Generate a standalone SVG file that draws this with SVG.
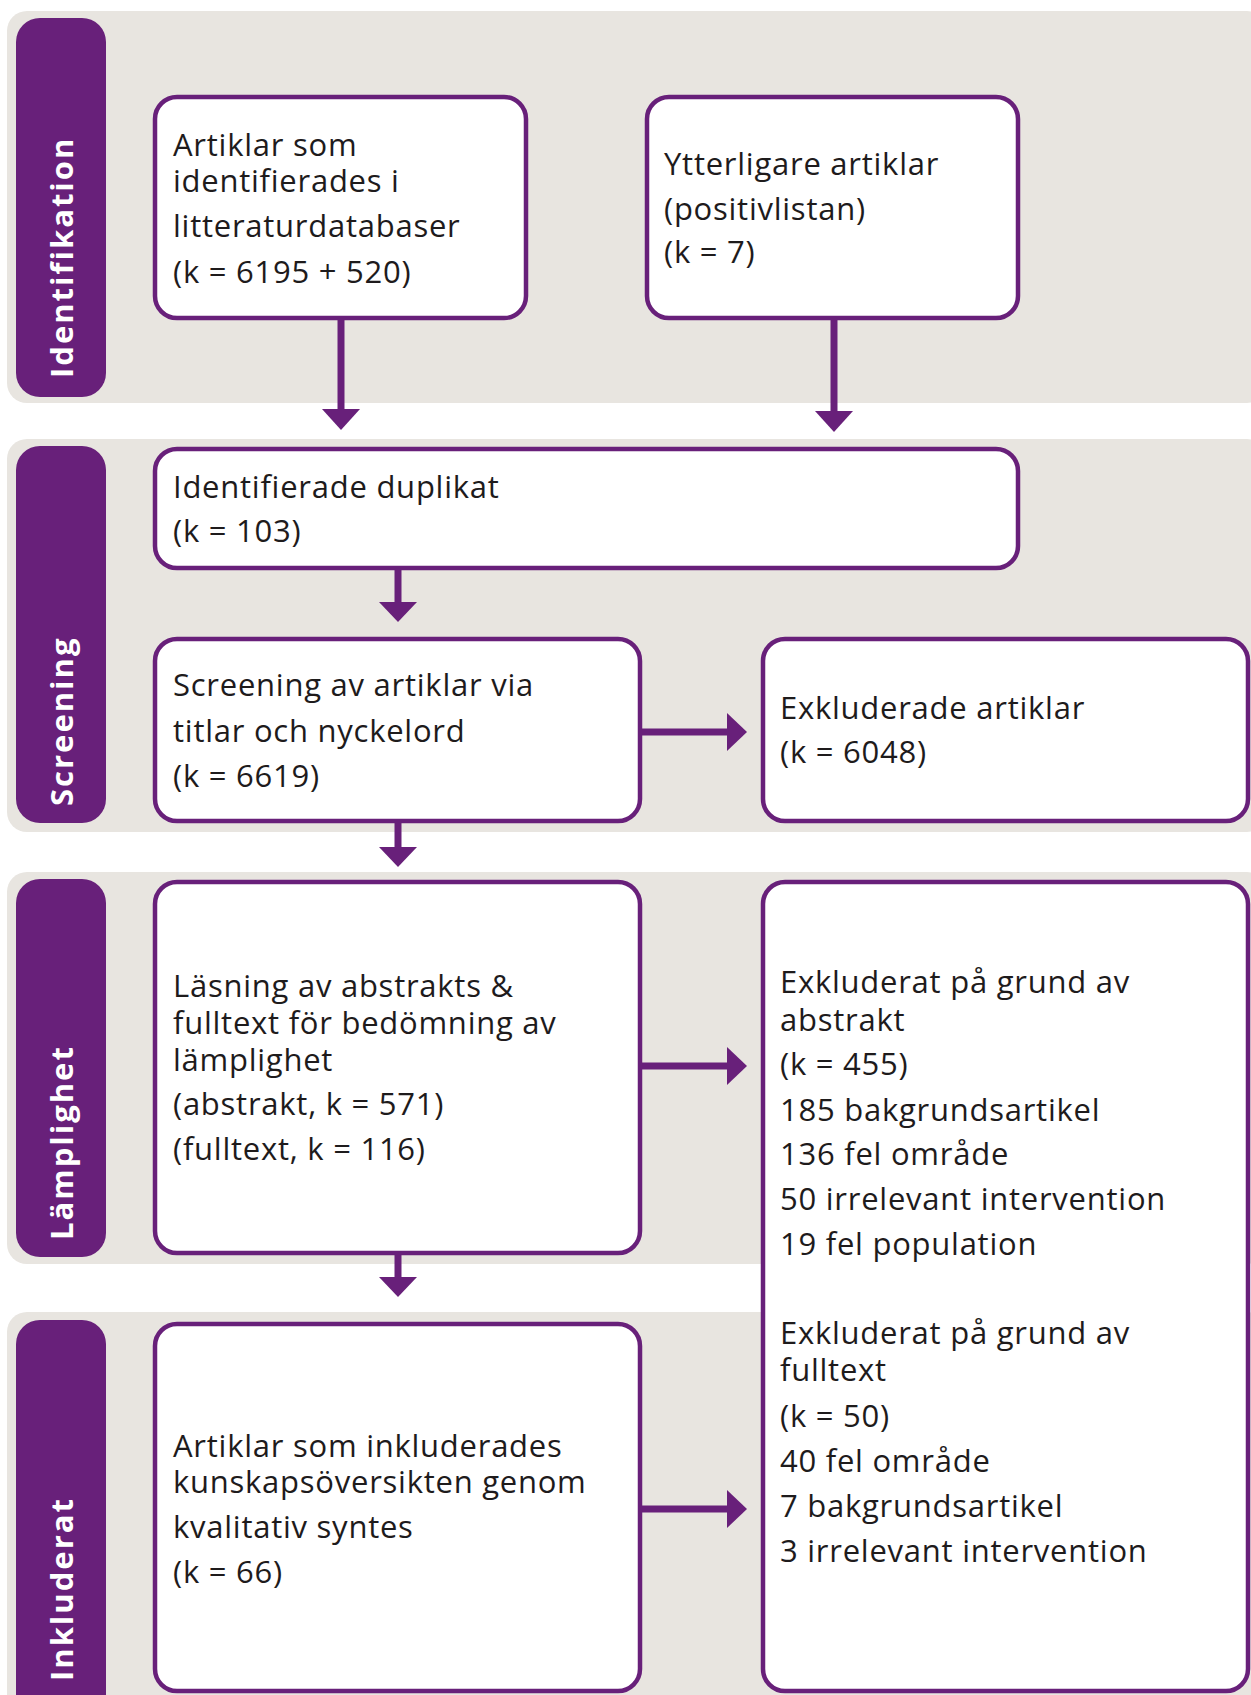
<svg xmlns="http://www.w3.org/2000/svg" width="1251" height="1695" viewBox="0 0 1251 1695">
<defs>
<style>
.band{fill:#e8e5e0}
.tab{fill:#68207a}
.tabt{fill:#ffffff;font-family:"Open Sans","Noto Sans",sans-serif;font-weight:700;font-size:31px;letter-spacing:2px}
.box{fill:#ffffff;stroke:#68207a;stroke-width:4.5}
.t{fill:#1e1b1c;font-family:"Open Sans","Noto Sans",sans-serif;font-size:31px;letter-spacing:0.75px}
.ln{stroke:#68207a;stroke-width:7;fill:none}
.hd{fill:#68207a}
</style>
</defs>
<rect width="1251" height="1695" fill="#ffffff"/>
<g id="bands">
<rect class="band" x="7" y="11" width="1260" height="392" rx="20"/>
<rect class="band" x="7" y="439" width="1260" height="393" rx="20"/>
<rect class="band" x="7" y="872" width="1260" height="392" rx="20"/>
<rect class="band" x="7" y="1312" width="1260" height="420" rx="20"/>
</g>
<g id="stage-identifikation">
<rect class="tab" x="16" y="18" width="90" height="379" rx="24"/>
<text class="tabt" transform="translate(73,378) rotate(-90)">Identifikation</text>
</g>
<g id="stage-screening">
<rect class="tab" x="16" y="446" width="90" height="377" rx="24"/>
<text class="tabt" transform="translate(73,806) rotate(-90)">Screening</text>
</g>
<g id="stage-lamplighet">
<rect class="tab" x="16" y="879" width="90" height="378" rx="24"/>
<text class="tabt" transform="translate(73,1240) rotate(-90)">Lämplighet</text>
</g>
<g id="stage-inkluderat">
<rect class="tab" x="16" y="1320" width="90" height="420" rx="24"/>
<text class="tabt" transform="translate(73,1681) rotate(-90)">Inkluderat</text>
</g>
<g id="connectors">
<line class="ln" x1="341" y1="320" x2="341" y2="411"/>
<polygon class="hd" points="322,409 360,409 341,430"/>
<line class="ln" x1="834" y1="320" x2="834" y2="413"/>
<polygon class="hd" points="815,411 853,411 834,432"/>
<line class="ln" x1="398" y1="570" x2="398" y2="604"/>
<polygon class="hd" points="379,602 417,602 398,622"/>
<line class="ln" x1="398" y1="823" x2="398" y2="849"/>
<polygon class="hd" points="379,847 417,847 398,867"/>
<line class="ln" x1="398" y1="1255" x2="398" y2="1279"/>
<polygon class="hd" points="379,1277 417,1277 398,1297"/>
<line class="ln" x1="641" y1="732" x2="729" y2="732"/>
<polygon class="hd" points="727,713 727,751 747,732"/>
<line class="ln" x1="641" y1="1066" x2="729" y2="1066"/>
<polygon class="hd" points="727,1047 727,1085 747,1066"/>
<line class="ln" x1="641" y1="1509" x2="729" y2="1509"/>
<polygon class="hd" points="727,1490 727,1528 747,1509"/>
</g>
<g id="node-databaser">
<rect class="box" x="155" y="97" width="371" height="221" rx="22"/>
<text class="t" x="173" y="156">Artiklar som</text>
<text class="t" x="173" y="192">identifierades i</text>
<text class="t" x="173" y="237">litteraturdatabaser</text>
<text class="t" x="173" y="283">(k = 6195 + 520)</text>
</g>
<g id="node-positivlistan">
<rect class="box" x="647" y="97" width="371" height="221" rx="22"/>
<text class="t" x="664" y="175">Ytterligare artiklar</text>
<text class="t" x="664" y="220">(positivlistan)</text>
<text class="t" x="664" y="263">(k = 7)</text>
</g>
<g id="node-duplikat">
<rect class="box" x="155" y="449" width="863" height="119" rx="22"/>
<text class="t" x="173" y="498">Identifierade duplikat</text>
<text class="t" x="173" y="542">(k = 103)</text>
</g>
<g id="node-screening">
<rect class="box" x="155" y="639" width="485" height="182" rx="22"/>
<text class="t" x="173" y="696">Screening av artiklar via</text>
<text class="t" x="173" y="742">titlar och nyckelord</text>
<text class="t" x="173" y="787">(k = 6619)</text>
</g>
<g id="node-exkluderade">
<rect class="box" x="763" y="639" width="485" height="182" rx="22"/>
<text class="t" x="780" y="719">Exkluderade artiklar</text>
<text class="t" x="780" y="763">(k = 6048)</text>
</g>
<g id="node-lasning">
<rect class="box" x="155" y="882" width="485" height="371" rx="22"/>
<text class="t" x="173" y="997">Läsning av abstrakts &amp;</text>
<text class="t" x="173" y="1034">fulltext för bedömning av</text>
<text class="t" x="173" y="1071">lämplighet</text>
<text class="t" x="173" y="1115">(abstrakt, k = 571)</text>
<text class="t" x="173" y="1160">(fulltext, k = 116)</text>
</g>
<g id="node-exkluderat">
<rect class="box" x="763" y="882" width="485" height="809" rx="22"/>
<text class="t" x="780" y="993">Exkluderat på grund av</text>
<text class="t" x="780" y="1031">abstrakt</text>
<text class="t" x="780" y="1075">(k = 455)</text>
<text class="t" x="780" y="1121">185 bakgrundsartikel</text>
<text class="t" x="780" y="1165">136 fel område</text>
<text class="t" x="780" y="1210">50 irrelevant intervention</text>
<text class="t" x="780" y="1255">19 fel population</text>
<text class="t" x="780" y="1344">Exkluderat på grund av</text>
<text class="t" x="780" y="1381">fulltext</text>
<text class="t" x="780" y="1427">(k = 50)</text>
<text class="t" x="780" y="1472">40 fel område</text>
<text class="t" x="780" y="1517">7 bakgrundsartikel</text>
<text class="t" x="780" y="1562">3 irrelevant intervention</text>
</g>
<g id="node-inkluderade">
<rect class="box" x="155" y="1324" width="485" height="367" rx="22"/>
<text class="t" x="173" y="1457">Artiklar som inkluderades</text>
<text class="t" x="173" y="1493">kunskapsöversikten genom</text>
<text class="t" x="173" y="1538">kvalitativ syntes</text>
<text class="t" x="173" y="1583">(k = 66)</text>
</g>
</svg>
